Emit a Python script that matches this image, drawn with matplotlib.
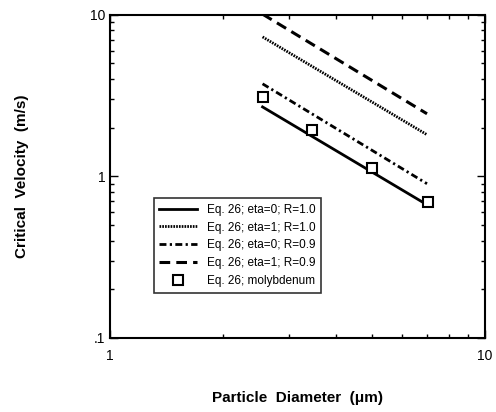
import matplotlib
matplotlib.use("Agg")
import matplotlib.pyplot as plt
import numpy as np
from matplotlib.ticker import FixedLocator, FixedFormatter, LogLocator, NullFormatter

# diameters (um) for the model curves
diam = [2.55, 7.0]
v_eta0_r10 = [2.69, 0.667]
v_eta1_r10 = [7.3, 1.81]
v_eta0_r09 = [3.74, 0.90]
v_eta1_r09 = [10.1, 2.44]

# molybdenum points
mo_diam = [2.56, 3.46, 5.0, 7.05]
mo_vel = [3.1, 1.94, 1.13, 0.69]

labels = [
    "Eq. 26; eta=0; R=1.0",
    "Eq. 26; eta=1; R=1.0",
    "Eq. 26; eta=0; R=0.9",
    "Eq. 26; eta=1; R=0.9",
    "Eq. 26; molybdenum",
]

matplotlib.rc("font", family=["Liberation Sans", "DejaVu Sans"])
fig = plt.figure(figsize=(4.96, 4.12), dpi=100)
ax = fig.add_axes([0.222, 0.180, 0.756, 0.784])

ax.plot(diam, v_eta0_r10, color="black", lw=2.0, label=labels[0])
ax.plot(diam, v_eta1_r10, color="black", lw=2.0, ls=(0, (0.6, 0.4)), label=labels[1])
ax.plot(diam, v_eta0_r09, color="black", lw=2.0, ls=(0, (2.5, 1.2, 0.8, 1.2)), label=labels[2])
ax.plot(diam, v_eta1_r09, color="black", lw=2.2, ls=(0, (3.5, 2)), label=labels[3])
ax.plot(mo_diam, mo_vel, ls="none", marker="s", ms=7, mfc="white", mec="black", mew=1.5,
        label=labels[4])

ax.set_xscale("log")
ax.set_yscale("log")
ax.set_xlim(1, 10)
ax.set_ylim(0.1, 10)

ax.xaxis.set_major_locator(FixedLocator([1, 10]))
ax.xaxis.set_major_formatter(FixedFormatter(["1", "10"]))
ax.yaxis.set_major_locator(FixedLocator([0.1, 1, 10]))
ax.yaxis.set_major_formatter(FixedFormatter([".1", "1", "10"]))
ax.xaxis.set_minor_locator(LogLocator(base=10, subs=np.arange(2, 10)))
ax.yaxis.set_minor_locator(LogLocator(base=10, subs=np.arange(2, 10)))
ax.xaxis.set_minor_formatter(NullFormatter())
ax.yaxis.set_minor_formatter(NullFormatter())
ax.tick_params(which="both", direction="in", top=True, right=True, labelsize=10)
ax.tick_params(which="major", length=6, width=1)
ax.tick_params(which="minor", length=3, width=1)
ax.tick_params(axis="x", pad=8)
for s in ax.spines.values():
    s.set_linewidth(1.5)

ax.set_xlabel("Particle  Diameter  (\u03bcm)", fontsize=11, fontweight="bold", labelpad=20)
ax.set_ylabel("Critical  Velocity  (m/s)", fontsize=11, fontweight="bold", labelpad=44)

leg = ax.legend(loc="lower left", bbox_to_anchor=(0.1, 0.12), fontsize=8.5,
                frameon=True, fancybox=False, edgecolor="black", handlelength=3.2,
                borderpad=0.5, labelspacing=0.5)
leg.get_frame().set_linewidth(1.2)

plt.savefig("out.png", dpi=100)
